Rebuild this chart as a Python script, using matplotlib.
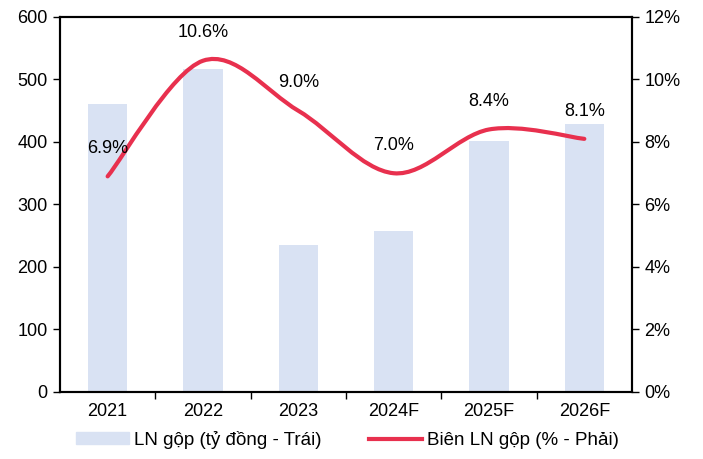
import numpy as np
import matplotlib.pyplot as plt
from matplotlib.path import Path
from matplotlib.patches import PathPatch
from matplotlib.lines import Line2D
from matplotlib.ticker import FuncFormatter

plt.rcParams['font.family'] = ['Liberation Sans', 'DejaVu Sans']
plt.rcParams['font.size'] = 13

years = ['2021', '2022', '2023', '2024F', '2025F', '2026F']
gross_profit = [461, 517, 235, 258, 402, 428]
gross_margin = [6.9, 10.6, 9.0, 7.0, 8.4, 8.1]

BAR_COLOR = '#D9E2F3'
LINE_COLOR = '#E8304E'


def smooth_path(x, y):
    # Catmull-Rom style bezier, like Excel's smoothed line
    pts = np.column_stack([x, y]).astype(float)
    verts = [pts[0]]
    codes = [Path.MOVETO]
    n = len(pts)
    for i in range(n - 1):
        p0 = pts[i - 1] if i > 0 else pts[i]
        p1, p2 = pts[i], pts[i + 1]
        p3 = pts[i + 2] if i + 2 < n else pts[i + 1]
        c1 = p1 + (p2 - p0) / 6
        c2 = p2 - (p3 - p1) / 6
        verts += [c1, c2, p2]
        codes += [Path.CURVE4] * 3
    return Path(verts, codes)


fig = plt.figure(figsize=(7.03, 4.59), dpi=100)
ax = fig.add_axes([0.0853, 0.146, 0.8137, 0.817])
x = np.arange(len(years))
ax.bar(x, gross_profit, width=0.41, color=BAR_COLOR, zorder=1)
ax.set_xlim(-0.5, len(years) - 0.5)
ax.set_ylim(0, 600)
ax.set_yticks(range(0, 601, 100))
ax.set_xticks(np.arange(0.5, len(years) - 1, 1))
ax.set_xticklabels([])
ax.set_xticks(x, minor=True)
ax.set_xticklabels(years, minor=True)
ax.tick_params(axis='x', which='minor', length=0, pad=8)
ax.tick_params(axis='x', which='major', length=5, width=1, direction='out')
ax.tick_params(axis='y', length=5, width=1, direction='out', pad=4)
for s in ax.spines.values():
    s.set_linewidth(1.5)

ax2 = ax.twinx()
ax2.set_ylim(0, 12)
ax2.set_yticks(range(0, 13, 2))
ax2.yaxis.set_major_formatter(FuncFormatter(lambda v, p: f'{v:.0f}%'))
ax2.tick_params(axis='y', length=5, width=1, direction='out', pad=4)
for s in ax2.spines.values():
    s.set_linewidth(1.5)

patch = PathPatch(smooth_path(x, gross_margin), facecolor='none', edgecolor=LINE_COLOR,
                  linewidth=3, capstyle='round', zorder=3)
ax2.add_patch(patch)
for xi, v in zip(x, gross_margin):
    ax2.annotate(f'{v:.1f}%', (xi, v), xytext=(0, 20), textcoords='offset points',
                 ha='center', va='center')

handles = [plt.Rectangle((0, 0), 1, 1, color=BAR_COLOR),
           Line2D([0], [0], color=LINE_COLOR, linewidth=3)]
fig.legend(handles, ['LN gộp (tỷ đồng - Trái)', 'Biên LN gộp (% - Phải)'],
           loc='center', bbox_to_anchor=(0.494, 0.042), ncol=2, frameon=False,
           fontsize=13.5, handlelength=2.85, handleheight=0.55, handletextpad=0.25,
           columnspacing=2.5)

fig.savefig('out.png', dpi=100)
